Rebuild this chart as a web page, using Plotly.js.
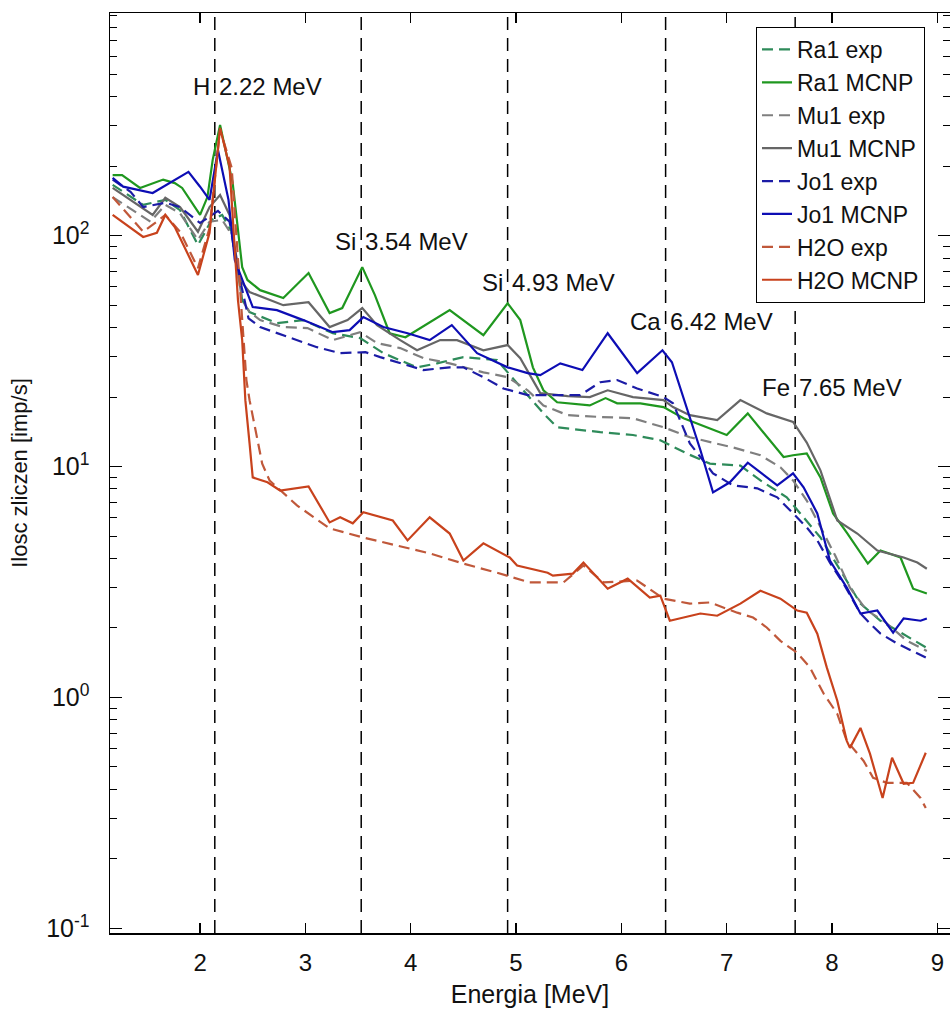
<!DOCTYPE html>
<html><head><meta charset="utf-8">
<script src="https://cdn.plot.ly/plotly-3.0.1.min.js"></script>
<style>html,body{margin:0;padding:0;background:#fff}</style>
</head><body>
<div id="chart" style="width:950px;height:1012px"></div>
<script>
// ---- data (energy in MeV, counts in imp/s) ----
const ra1McnpE = [1.17,1.26,1.43,1.65,1.76,1.83,2.00,2.07,2.12,2.19,2.31,2.40,2.45,2.57,2.79,3.03,3.23,3.35,3.54,3.66,3.80,3.95,4.37,4.69,4.92,5.04,5.16,5.26,5.39,5.70,5.85,5.96,6.18,6.40,6.59,7.00,7.20,7.54,7.63,7.76,7.89,8.01,8.14,8.34,8.46,8.65,8.77,8.90];
const ra1McnpY = [183,183,161,175,169,161,123,147,213,302,169,73.1,64.3,58.1,53.7,68.9,46.2,48.6,73.1,55.3,37.8,36.3,47.6,37.1,51.0,43.1,26.9,21.4,19.0,18.4,19.8,18.8,18.8,18.1,16.2,13.7,17.0,11.0,11.2,11.4,8.98,6.27,5.18,3.80,4.33,4.04,2.96,2.82];

const ra1ExpE = [1.17,1.46,1.67,1.81,1.98,2.11,2.21,2.30,2.40,2.47,2.73,2.98,3.26,3.52,3.74,4.06,4.25,4.50,4.82,5.01,5.26,5.39,5.80,6.11,6.37,6.62,6.84,7.13,7.32,7.57,7.76,7.89,8.08,8.27,8.46,8.65,8.90];
const ra1ExpY = [166,136,143,129,91.1,117,123,104,52.6,46.7,41.8,43.1,37.8,36.0,31.0,26.9,28.0,29.8,28.9,23.0,17.0,14.8,14.1,13.7,13.0,11.4,10.3,10.1,8.71,7.36,5.84,4.93,3.55,2.55,2.15,1.91,1.64];

const mu1McnpE = [1.17,1.55,1.67,1.81,1.98,2.09,2.19,2.28,2.38,2.47,2.79,3.03,3.23,3.40,3.54,3.68,3.90,4.06,4.28,4.44,4.69,4.92,5.04,5.23,5.49,5.70,5.87,6.11,6.40,6.49,6.65,6.91,7.13,7.38,7.63,7.76,7.89,8.05,8.24,8.43,8.68,8.81,8.90];
const mu1McnpY = [161,123,146,133,104,133,150,123,64.3,57.0,50.0,51.5,40.2,43.1,48.6,41.0,35.3,31.9,35.3,35.3,31.9,33.6,29.5,20.8,20.2,20.0,21.4,20.0,19.4,18.1,16.7,15.9,19.4,17.0,15.6,12.7,9.63,5.84,5.13,4.33,4.04,3.84,3.61];

const mu1ExpE = [1.17,1.53,1.67,1.81,1.98,2.09,2.21,2.30,2.40,2.47,2.57,2.79,3.02,3.26,3.52,3.68,3.90,4.12,4.37,4.69,4.92,5.11,5.26,5.49,5.80,6.11,6.40,6.65,7.06,7.32,7.51,7.63,7.76,7.86,8.03,8.17,8.33,8.49,8.71,8.90];
const mu1ExpY = [147,115,136,125,95.8,115,117,101,52.6,46.7,43.1,40.2,39.8,35.3,38.2,34.3,32.6,29.5,28.0,25.6,24.4,21.4,18.4,16.7,16.4,16.2,14.8,13.4,12.1,11.2,9.93,8.71,7.13,5.84,4.12,2.99,2.38,2.15,1.76,1.59];

const jo1McnpE = [1.17,1.27,1.55,1.89,2.00,2.09,2.17,2.27,2.33,2.41,2.50,2.73,2.98,3.26,3.42,3.55,3.74,3.97,4.18,4.39,4.63,4.92,5.11,5.23,5.42,5.63,5.87,6.15,6.39,6.48,6.62,6.75,6.87,7.03,7.20,7.48,7.63,7.73,7.86,7.98,8.14,8.27,8.43,8.58,8.68,8.84,8.90];
const jo1McnpY = [178,163,153,189,163,143,235,143,78.4,63.0,49.1,47.6,43.1,38.2,39.0,44.4,40.2,37.8,35.3,41.0,31.0,26.9,25.4,24.9,28.0,26.2,37.8,25.4,31.9,28.3,18.1,11.8,7.73,8.55,10.4,8.29,9.35,8.13,6.27,3.92,2.99,2.31,2.38,1.91,2.20,2.15,2.20];

const jo1ExpE = [1.17,1.34,1.46,1.67,1.81,2.00,2.17,2.28,2.38,2.46,2.57,2.79,3.11,3.33,3.57,3.71,3.90,4.12,4.37,4.50,4.69,4.88,5.11,5.30,5.61,5.80,5.96,6.15,6.40,6.49,6.65,6.87,7.06,7.29,7.48,7.63,7.76,7.86,7.98,8.11,8.27,8.36,8.46,8.62,8.77,8.89];
const jo1ExpY = [175,155,133,139,133,113.5,128,115,64.3,43.9,40.2,37.1,32.9,31.0,31.3,29.8,28.0,26.2,26.9,26.9,24.4,21.8,20.4,20.4,20.4,23.2,23.7,21.8,20.0,18.8,12.6,9.35,8.29,8.05,7.36,6.27,5.45,4.79,3.84,3.11,2.31,2.09,1.89,1.71,1.59,1.49];

const h2oMcnpE = [1.17,1.46,1.59,1.67,1.76,1.98,2.09,2.19,2.28,2.36,2.40,2.43,2.47,2.50,2.64,2.76,3.03,3.23,3.33,3.45,3.55,3.83,3.97,4.18,4.37,4.50,4.69,4.94,5.01,5.30,5.35,5.54,5.64,5.87,6.06,6.27,6.37,6.46,6.75,6.91,7.13,7.32,7.51,7.67,7.76,7.86,7.95,8.05,8.14,8.17,8.27,8.36,8.48,8.57,8.68,8.77,8.89];
const h2oMcnpY = [123,98.7,103,123,109,67.6,103,293,199,52.6,35.3,19.4,12.6,8.98,8.55,7.88,8.21,5.73,6.03,5.68,6.34,5.84,4.79,6.03,5.13,3.92,4.65,4.04,3.73,3.47,3.37,3.44,3.84,2.96,3.27,2.71,2.76,2.15,2.31,2.26,2.55,2.90,2.68,2.38,2.33,1.89,1.35,0.968,0.649,0.605,0.738,0.571,0.367,0.548,0.423,0.427,0.576];

const h2oExpE = [1.17,1.36,1.46,1.59,1.67,1.81,1.98,2.09,2.19,2.30,2.38,2.44,2.47,2.59,2.66,2.92,3.23,3.55,3.87,4.18,4.50,4.82,5.13,5.45,5.64,5.83,6.15,6.40,6.65,6.84,7.10,7.25,7.38,7.51,7.67,7.79,7.92,8.05,8.14,8.30,8.39,8.52,8.71,8.84,8.89];
const h2oExpY = [147,117,104,115,123,104,72.4,108,288,197,58.1,23.7,19.4,10.3,8.71,6.79,5.40,4.93,4.55,4.21,3.80,3.47,3.15,3.15,3.73,3.15,3.21,2.68,2.55,2.58,2.33,2.22,2.01,1.76,1.56,1.35,1.04,0.849,0.649,0.531,0.449,0.427,0.427,0.367,0.332];

// peak markers
const peakElements = ['H', 'Si', 'Si', 'Ca', 'Fe'];
const peakLabels = ['2.22 MeV', '3.54 MeV', '4.93 MeV', '6.42 MeV', '7.65 MeV'];
const peakLinePos = [2.14, 3.53, 4.92, 6.42, 7.65];
const peakLabelCounts = [443, 94, 63, 42.4, 22.1];

// axis tick labels
const yTickVals = [0.1, 1, 10, 100];
const yTickText = ['10<sup>-1</sup>', '10<sup>0</sup>', '10<sup>1</sup>', '10<sup>2</sup>'];
const xTickVals = [2, 3, 4, 5, 6, 7, 8, 9];

// ---- styles ----
const FONT = 'Liberation Sans, Arial, Helvetica, sans-serif';
const seriesDash = '11px,6px';
function tr(name, x, y, color, dashed) {
  return {
    type: 'scatter', mode: 'lines', name: name, x: x, y: y,
    line: {color: color, width: 2.2, dash: dashed ? seriesDash : 'solid'},
    hoverinfo: 'skip'
  };
}
const traces = [
  tr('Ra1 exp', ra1ExpE, ra1ExpY, '#2e8b5a', true),
  tr('Ra1 MCNP', ra1McnpE, ra1McnpY, '#1f971f', false),
  tr('Mu1 exp', mu1ExpE, mu1ExpY, '#7f7f7f', true),
  tr('Mu1 MCNP', mu1McnpE, mu1McnpY, '#666666', false),
  tr('Jo1 exp', jo1ExpE, jo1ExpY, '#1c1ca6', true),
  tr('Jo1 MCNP', jo1McnpE, jo1McnpY, '#0d0db4', false),
  tr('H2O exp', h2oExpE, h2oExpY, '#c0583a', true),
  tr('H2O MCNP', h2oMcnpE, h2oMcnpY, '#c8421c', false)
];

const minorVals = [];
for (let p = -1; p <= 2; p++) for (let d = 2; d <= 9; d++) minorVals.push(d * Math.pow(10, p));

const shapes = peakLinePos.map(e => ({
  type: 'line', xref: 'x', yref: 'paper', x0: e, x1: e, y0: 0, y1: 1,
  line: {color: '#000', width: 1.5, dash: '13px,8px'}, layer: 'below'
}));
const annotations = [];
peakLinePos.forEach((e, i) => {
  const yy = Math.log10(peakLabelCounts[i]);
  annotations.push({x: e, y: yy, xref: 'x', yref: 'y', text: peakElements[i], showarrow: false,
    xanchor: 'right', yanchor: 'middle', xshift: -3, font: {family: FONT, size: 24, color: '#111'}});
  annotations.push({x: e, y: yy, xref: 'x', yref: 'y', text: peakLabels[i], showarrow: false,
    xanchor: 'left', yanchor: 'middle', xshift: 2, font: {family: FONT, size: 24, color: '#111'}});
});

const layout = {
  width: 950, height: 1012,
  margin: {l: 110, r: 0, t: 13, b: 79},
  paper_bgcolor: '#fff', plot_bgcolor: '#fff',
  font: {family: FONT, color: '#000'},
  showlegend: true,
  legend: {
    x: 0.970, y: 0.985, xanchor: 'right', yanchor: 'top',
    bgcolor: '#fff', bordercolor: '#000', borderwidth: 1.2,
    font: {family: FONT, size: 23, color: '#111'},
    tracegroupgap: 0, itemwidth: 30
  },
  xaxis: {
    range: [1.145, 9.12], tickvals: xTickVals, ticks: 'inside', ticklen: 10, tickwidth: 1.2,
    tickcolor: '#000', showline: true, linecolor: '#000', linewidth: 1.5, mirror: 'ticks',
    showgrid: false, zeroline: false, ticklabelstandoff: 8,
    tickfont: {family: FONT, size: 24, color: '#111'},
    title: {text: 'Energia [MeV]', font: {family: FONT, size: 25, color: '#111'}, standoff: 10}
  },
  yaxis: {
    type: 'log', range: [-1.02, 2.9645], tickvals: yTickVals, ticktext: yTickText,
    ticks: 'inside', ticklen: 12, tickwidth: 1.2, tickcolor: '#000',
    showline: true, linecolor: '#000', linewidth: 1.5, mirror: 'ticks',
    showgrid: false, zeroline: false, ticklabelstandoff: 14,
    minor: {tickvals: minorVals, ticks: 'inside', ticklen: 7, tickwidth: 1, tickcolor: '#000', showgrid: false},
    tickfont: {family: FONT, size: 25, color: '#111'},
    title: {text: 'Ilosc zliczen [imp/s]', font: {family: FONT, size: 22, color: '#111'}, standoff: 12}
  },
  shapes: shapes,
  annotations: annotations
};

Plotly.newPlot('chart', traces, layout, {displayModeBar: false, staticPlot: true});
</script>
</body></html>
